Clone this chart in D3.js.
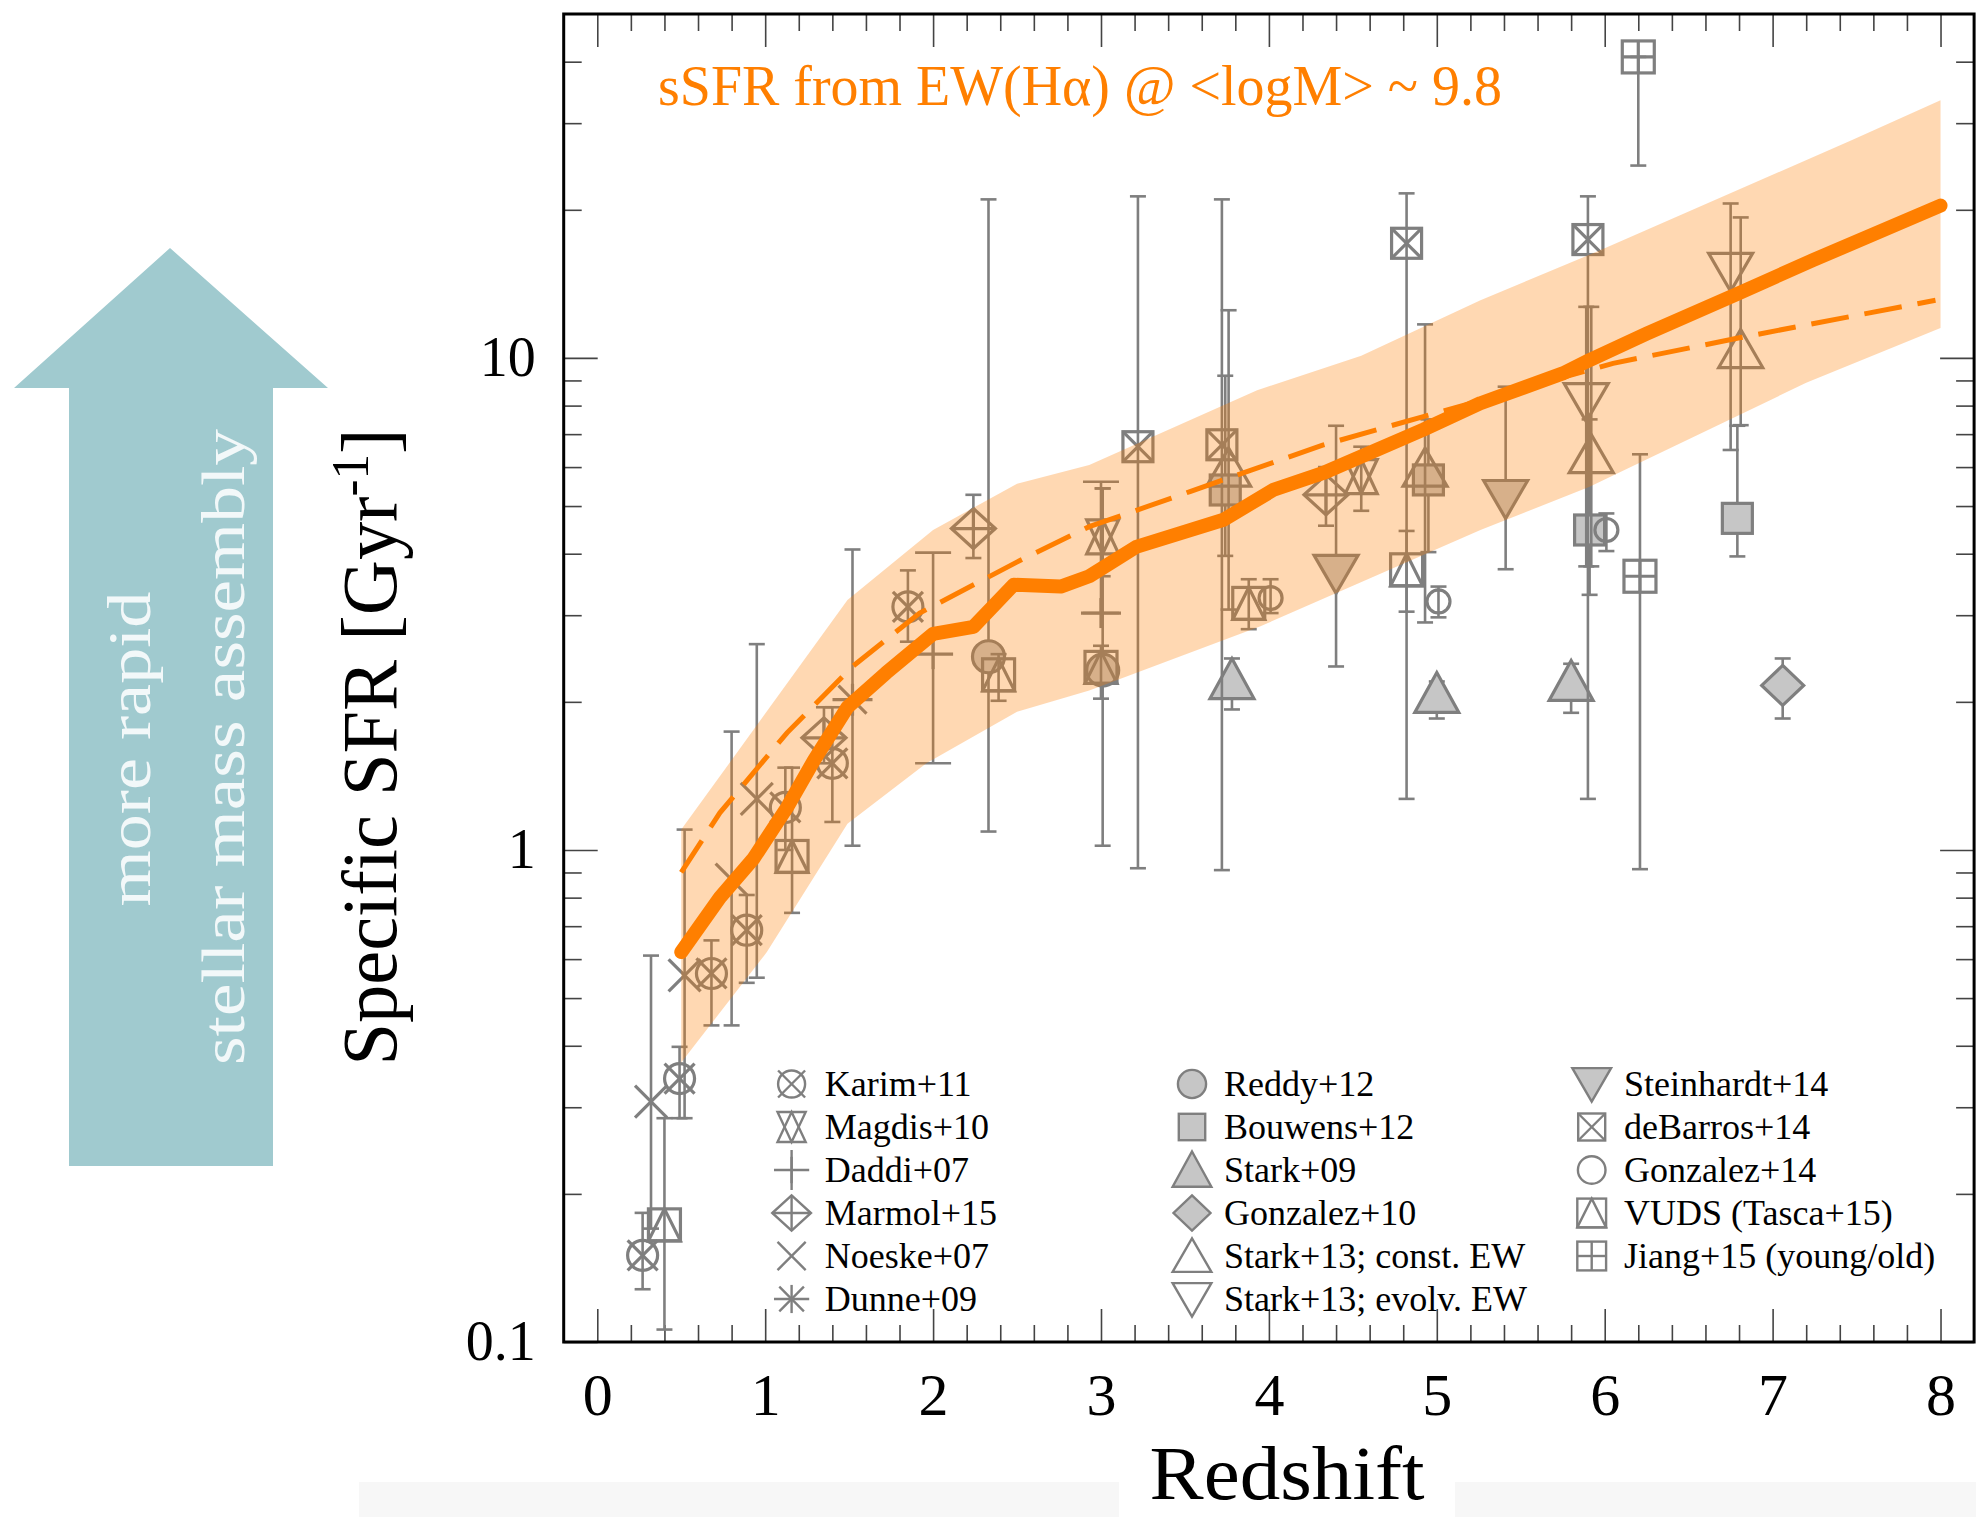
<!DOCTYPE html>
<html><head><meta charset="utf-8">
<script src="https://cdn.jsdelivr.net/npm/d3@7"></script>
<style>
body{margin:0;background:#fff}
svg{display:block}
svg text{font-family:"Liberation Serif","DejaVu Serif",serif}
</style>
</head><body>
<svg id="c" width="1976" height="1517" font-family="Liberation Serif, DejaVu Serif, serif"></svg>
<script>
// ---------------- DATA ----------------
const xTickValues = [0,1,2,3,4,5,6,7,8];
const xMinorValues = [0.2,0.4,0.6,0.8,1.2,1.4,1.6,1.8,2.2,2.4,2.6,2.8,3.2,3.4,3.6,3.8,4.2,4.4,4.6,4.8,5.2,5.4,5.6,5.8,6.2,6.4,6.6,6.8,7.2,7.4,7.6,7.8];
const yTickValues = [0.1,1,10];
const yTickLabels = ["0.1","1","10"];
const yMinorValues = [0.2,0.3,0.4,0.5,0.6,0.7,0.8,0.9,2,3,4,5,6,7,8,9,20,30,40];

// sSFR model (solid) : [z, sSFR]
const modelLine = [[0.5,0.62],[0.73,0.80],[0.93,0.96],[1.13,1.22],[1.29,1.52],[1.49,1.95],[1.72,2.29],[2.0,2.75],[2.24,2.84],[2.48,3.46],[2.76,3.43],[2.93,3.6],[3.21,4.13],[3.73,4.69],[4.03,5.4],[4.32,5.83],[4.92,7.15],[5.26,8.09],[5.75,9.3],[5.91,9.9],[6.25,11.2],[6.79,13.5],[7.24,15.8],[8.0,20.4]];
// dashed curve
const dashedLine = [[0.5,0.9],[0.73,1.19],[1.13,1.73],[1.52,2.36],[1.92,3.03],[2.52,3.88],[2.93,4.54],[3.53,5.35],[4.32,6.65],[4.92,7.6],[6.05,9.75],[6.81,11.0],[7.97,13.1]];
// shaded band edges
const bandUpper = [[0.5,1.1],[1.49,3.22],[2.0,4.47],[2.5,5.55],[2.93,6.06],[3.93,8.6],[4.55,10.1],[5.26,13.1],[6.0,16.7],[7.47,27.7],[8.0,33.4]];
const bandLower = [[0.5,0.37],[1.01,0.62],[1.49,1.13],[1.96,1.5],[2.5,1.91],[2.93,2.11],[3.95,2.85],[5.26,4.47],[5.91,5.47],[7.2,8.9],[8.0,11.5]];

// literature points: [z, sSFR, low, high]
const karim = [[0.27,0.150,0.128,0.183],[0.49,0.343,0.285,0.398],[0.68,0.561,0.44,0.655],[0.89,0.687,0.537,0.81],[1.12,1.22,1.0,1.47],[1.40,1.50,1.14,1.95],[1.85,3.12,2.65,3.70]];
const magdis = [[3.01,4.33,3.6,5.43],[4.55,5.74,4.89,6.6]];
const daddi = [[2.0,2.5,1.5,4.02],[3.0,3.03,3.03,5.6]];
const marmol = [[1.35,1.69,1.5,1.95],[2.24,4.5,3.92,5.27],[4.34,5.27,4.56,6.0]];
const noeske = [[0.32,0.308,0.17,0.61],[0.52,0.556,0.285,1.1],[0.80,0.87,0.44,1.74],[0.95,1.27,0.55,2.62]];
const dunne = [[1.52,2.02,1.02,4.08]];
const reddy = [[2.33,2.47,1.09,21.0],[3.01,2.32,1.02,5.43]];
const bouwens = [[3.74,5.39,3.96,9.2],[4.95,5.65,4.03,7.5],[5.91,4.47,3.3,7.5],[6.79,4.72,3.95,7.28]];
const stark09 = [[3.78,2.22,1.93,2.45],[5.0,2.08,1.85,2.2],[5.8,2.2,1.9,2.39]];
const gonzalez10 = [[7.06,2.16,1.85,2.45]];
const stark13const = [[3.76,5.97,3.08,12.5],[4.93,5.97,2.9,11.7],[5.92,6.36,3.77,12.7],[6.81,10.4,7.3,19.3]];
const stark13evolv = [[5.89,8.15,3.77,12.7],[6.75,15.0,6.5,20.6]];
const steinhardt = [[4.40,3.65,2.36,7.28],[5.41,5.18,3.72,8.74]];
const debarros = [[3.22,6.6,0.918,21.3],[3.72,6.66,0.91,21.0],[4.82,17.1,1.27,21.6],[5.90,17.4,1.27,21.3]];
const gonzalez14 = [[4.01,3.25,3.03,3.55],[5.01,3.2,2.97,3.43],[6.01,4.47,4.05,4.83]];
const vuds = [[0.40,0.173,0.106,0.285],[1.16,0.97,0.745,1.47],[2.39,2.27,2.01,2.5],[3.0,2.35,2.03,2.6],[3.88,3.17,2.81,3.55],[4.82,3.71,3.05,4.45]];
const jiang = [[6.21,3.6,0.914,6.37],[6.2,40.9,24.6,40.9]];

const seriesNames = ["Karim+11","Magdis+10","Daddi+07","Marmol+15","Noeske+07","Dunne+09",
  "Reddy+12","Bouwens+12","Stark+09","Gonzalez+10","Stark+13; const. EW","Stark+13; evolv. EW",
  "Steinhardt+14","deBarros+14","Gonzalez+14","VUDS (Tasca+15)","Jiang+15 (young/old)"];
const seriesData = [karim,magdis,daddi,marmol,noeske,dunne,reddy,bouwens,stark09,gonzalez10,stark13const,stark13evolv,steinhardt,debarros,gonzalez14,vuds,jiang];
const seriesMarkers = ["circX","hexa","plus","diaPlus","x","star","circFill","sqFill","triFill","diaFill","triOpen","triDownOpen","triDownFill","sqX","circSmall","sqTri","sqPlus"];

// ---------------- DRAW ----------------
const W = 1976, H = 1517;
const SERIF = "Liberation Serif, DejaVu Serif, serif";
const GRAY = "#7f7f7f", FILL = "#c6c6c6", ORANGE = "#ff7f00";
const svg = d3.select("#c");
svg.append("rect").attr("width", W).attr("height", H).attr("fill", "#fff");

// faint strip at bottom
svg.append("rect").attr("x",359).attr("y",1482).attr("width",760).attr("height",35).attr("fill","#f7f7f7");
svg.append("rect").attr("x",1455).attr("y",1482).attr("width",521).attr("height",35).attr("fill","#f7f7f7");

const x = d3.scaleLinear().domain([-0.2, 8.2]).range([563.7, 1974.1]);
const y = d3.scaleLog().domain([0.1, 50]).range([1342, 14]);
const X0 = x.range()[0], X1 = x.range()[1], Y0 = y.range()[1], Y1 = y.range()[0];

// Arrow
svg.append("polygon")
  .attr("points", [[170,248],[328,388],[273,388],[273,1166],[69,1166],[69,388],[14,388]].map(p=>p.join(",")).join(" "))
  .attr("fill", "#a0cacf");
svg.append("text").attr("transform","translate(150,749) rotate(-90)").attr("font-family",SERIF)
  .attr("text-anchor","middle").attr("font-size",62).attr("fill","#f2f8f9")
  .attr("textLength",315).attr("lengthAdjust","spacingAndGlyphs").text("more rapid");
svg.append("text").attr("transform","translate(244,747) rotate(-90)").attr("font-family",SERIF)
  .attr("text-anchor","middle").attr("font-size",62).attr("fill","#f2f8f9")
  .attr("textLength",636).attr("lengthAdjust","spacingAndGlyphs").text("stellar mass assembly");

// Axes (ticks inward)
function styleAxis(g){
  g.attr("font-family", SERIF);
  g.select(".domain").remove();
  g.selectAll(".tick line").attr("stroke","#444").attr("stroke-width",1.6);
}
const fmtY = d => yTickLabels[yTickValues.indexOf(d)];
svg.append("g").attr("transform",`translate(0,${Y1})`)
  .call(d3.axisBottom(x).tickValues(xTickValues).tickSizeInner(-33).tickSizeOuter(0).tickPadding(30).tickFormat(d3.format("d")))
  .call(styleAxis)
  .call(g=>g.selectAll("text").attr("font-size",60).attr("fill","#000").attr("font-family",SERIF));
svg.append("g").attr("transform",`translate(0,${Y1})`)
  .call(d3.axisBottom(x).tickValues(xMinorValues).tickSizeInner(-17).tickSizeOuter(0).tickFormat(""))
  .call(styleAxis);
svg.append("g").attr("transform",`translate(0,${Y0})`)
  .call(d3.axisTop(x).tickValues(xTickValues).tickSizeInner(-33).tickSizeOuter(0).tickFormat(""))
  .call(styleAxis);
svg.append("g").attr("transform",`translate(0,${Y0})`)
  .call(d3.axisTop(x).tickValues(xMinorValues).tickSizeInner(-17).tickSizeOuter(0).tickFormat(""))
  .call(styleAxis);
svg.append("g").attr("transform",`translate(${X0},0)`)
  .call(d3.axisLeft(y).tickValues(yTickValues).tickSizeInner(-34).tickSizeOuter(0).tickPadding(28).tickFormat(fmtY))
  .call(styleAxis)
  .call(g=>g.selectAll("text").attr("font-size",56).attr("fill","#000").attr("font-family",SERIF));
svg.append("g").attr("transform",`translate(${X0},0)`)
  .call(d3.axisLeft(y).tickValues(yMinorValues).tickSizeInner(-18).tickSizeOuter(0).tickFormat(""))
  .call(styleAxis);
svg.append("g").attr("transform",`translate(${X1},0)`)
  .call(d3.axisRight(y).tickValues(yTickValues).tickSizeInner(-34).tickSizeOuter(0).tickFormat(""))
  .call(styleAxis);
svg.append("g").attr("transform",`translate(${X1},0)`)
  .call(d3.axisRight(y).tickValues(yMinorValues).tickSizeInner(-18).tickSizeOuter(0).tickFormat(""))
  .call(styleAxis);

// Marker drawing
function drawMarker(g, type, k, sw){
  const add = tag => g.append(tag).attr("stroke", GRAY).attr("stroke-width", sw).attr("fill","none");
  const L = (x1,y1,x2,y2) => add("line").attr("x1",x1*k).attr("y1",y1*k).attr("x2",x2*k).attr("y2",y2*k);
  const P = (pts, fill) => add("polygon").attr("points", pts.map(p=>(p[0]*k)+","+(p[1]*k)).join(" ")).attr("fill", fill||"none");
  const R = (h, fill) => add("rect").attr("x",-h*k).attr("y",-h*k).attr("width",2*h*k).attr("height",2*h*k).attr("fill",fill||"none");
  switch(type){
    case "circX": add("circle").attr("r",15*k); L(-15,-15,15,15); L(-15,15,15,-15); break;
    case "hexa": P([[0,-17],[16,17],[-16,17]]); P([[-16,-17],[16,-17],[0,17]]); break;
    case "plus": L(-20,0,20,0); L(0,-15,0,15); break;
    case "diaPlus": P([[0,-20],[22,0],[0,20],[-22,0]]); L(-22,0,22,0); L(0,-20,0,20); break;
    case "x": L(-16,-16,16,16); L(-16,16,16,-16); break;
    case "star": L(-20,0,20,0); L(0,-16,0,16); L(-14,-14,14,14); L(-14,14,14,-14); break;
    case "circFill": add("circle").attr("r",16*k).attr("fill",FILL); break;
    case "sqFill": R(15, FILL); break;
    case "triFill": P([[0,-21],[22,19],[-22,19]], FILL); break;
    case "diaFill": P([[0,-20],[21,0],[0,20],[-21,0]], FILL); break;
    case "triOpen": P([[0,-20],[22,18],[-22,18]]); break;
    case "triDownOpen": P([[-22,-18],[22,-18],[0,20]]); break;
    case "triDownFill": P([[-22,-18],[22,-18],[0,20]], FILL); break;
    case "sqX": R(15); L(-15,-15,15,15); L(-15,15,15,-15); break;
    case "circSmall": add("circle").attr("r",11.5*k); break;
    case "sqTri": R(16); P([[0,-16],[16,16],[-16,16]]); break;
    case "sqPlus": R(16); L(-16,0,16,0); L(0,-16,0,16); break;
  }
}

// Data points
const pts = svg.append("g");
seriesData.forEach((data, i) => {
  const type = seriesMarkers[i];
  const cw = type === "plus" ? 18 : 8;
  const sg = pts.append("g");
  data.forEach(d => {
    const cx = x(d[0]);
    const eb = sg.append("g").attr("stroke", GRAY).attr("stroke-width", 2.6);
    eb.append("line").attr("x1",cx).attr("x2",cx).attr("y1",y(d[2])).attr("y2",y(d[3]));
    eb.append("line").attr("x1",cx-cw).attr("x2",cx+cw).attr("y1",y(d[2])).attr("y2",y(d[2]));
    eb.append("line").attr("x1",cx-cw).attr("x2",cx+cw).attr("y1",y(d[3])).attr("y2",y(d[3]));
  });
  data.forEach(d => {
    const mg = sg.append("g").attr("transform", `translate(${x(d[0])},${y(d[1])})`);
    drawMarker(mg, type, 1, 3.2);
  });
});

// Band (on top of markers, semi-transparent)
const bandPoly = bandUpper.concat(bandLower.slice().reverse());
svg.append("path")
  .attr("d", d3.line().x(d=>x(d[0])).y(d=>y(d[1]))(bandPoly) + "Z")
  .attr("fill", ORANGE).attr("fill-opacity", 0.3).attr("stroke","none");

// Dashed
svg.append("path")
  .attr("d", d3.line().x(d=>x(d[0])).y(d=>y(d[1]))(dashedLine))
  .attr("fill","none").attr("stroke",ORANGE).attr("stroke-width",5)
  .attr("stroke-dasharray","38,16");
// Thick line
svg.append("path")
  .attr("d", d3.line().x(d=>x(d[0])).y(d=>y(d[1]))(modelLine))
  .attr("fill","none").attr("stroke",ORANGE).attr("stroke-width",14)
  .attr("stroke-linecap","round").attr("stroke-linejoin","round");

// Frame
svg.append("rect").attr("x",X0).attr("y",Y0).attr("width",X1-X0).attr("height",Y1-Y0)
  .attr("fill","none").attr("stroke","#000").attr("stroke-width",3);

// Title in plot
svg.append("text").attr("x",658).attr("y",105).attr("font-size",57).attr("fill",ORANGE).attr("font-family",SERIF)
  .attr("textLength",844).attr("lengthAdjust","spacingAndGlyphs")
  .text("sSFR from EW(Hα) @ <logM> ~ 9.8");

// Legend
const legCols = [{mx:791.6, tx:824.7},{mx:1192, tx:1224},{mx:1591.7, tx:1624}];
const legRows = [1084,1127,1170,1213,1256,1299];
const leg = svg.append("g");
seriesNames.forEach((name, i) => {
  const col = legCols[Math.floor(i/6)], ry = legRows[i%6];
  const type = seriesMarkers[i];
  let k = 0.88;
  if (type === "circSmall") k = 1.2;
  if (type === "circX" || type === "sqX" || type === "sqPlus" || type === "sqTri") k = 0.9;
  const mg = leg.append("g").attr("transform", `translate(${col.mx},${ry})`);
  if (type === "plus") {
    mg.append("line").attr("x1",0).attr("x2",0).attr("y1",-20).attr("y2",20).attr("stroke",GRAY).attr("stroke-width",2.4);
  }
  drawMarker(mg, type, k, 2.4);
  leg.append("text").attr("x", col.tx).attr("y", ry + 12).attr("font-size", 36).attr("font-family",SERIF)
    .attr("fill","#000").text(name);
});

// Axis titles
svg.append("text").attr("x",1287).attr("y",1499).attr("text-anchor","middle").attr("font-family",SERIF)
  .attr("font-size",76).attr("fill","#000").attr("textLength",275).attr("lengthAdjust","spacingAndGlyphs").text("Redshift");
const yt = svg.append("text").attr("transform","translate(396,747) rotate(-90)").attr("font-family",SERIF)
  .attr("text-anchor","middle").attr("font-size",78).attr("fill","#000")
  .attr("textLength",637).attr("lengthAdjust","spacingAndGlyphs");
yt.append("tspan").text("Specific SFR [Gyr");
yt.append("tspan").attr("font-size",52).attr("baseline-shift","super").text("-1");
yt.append("tspan").text("]");
</script>
</body></html>
